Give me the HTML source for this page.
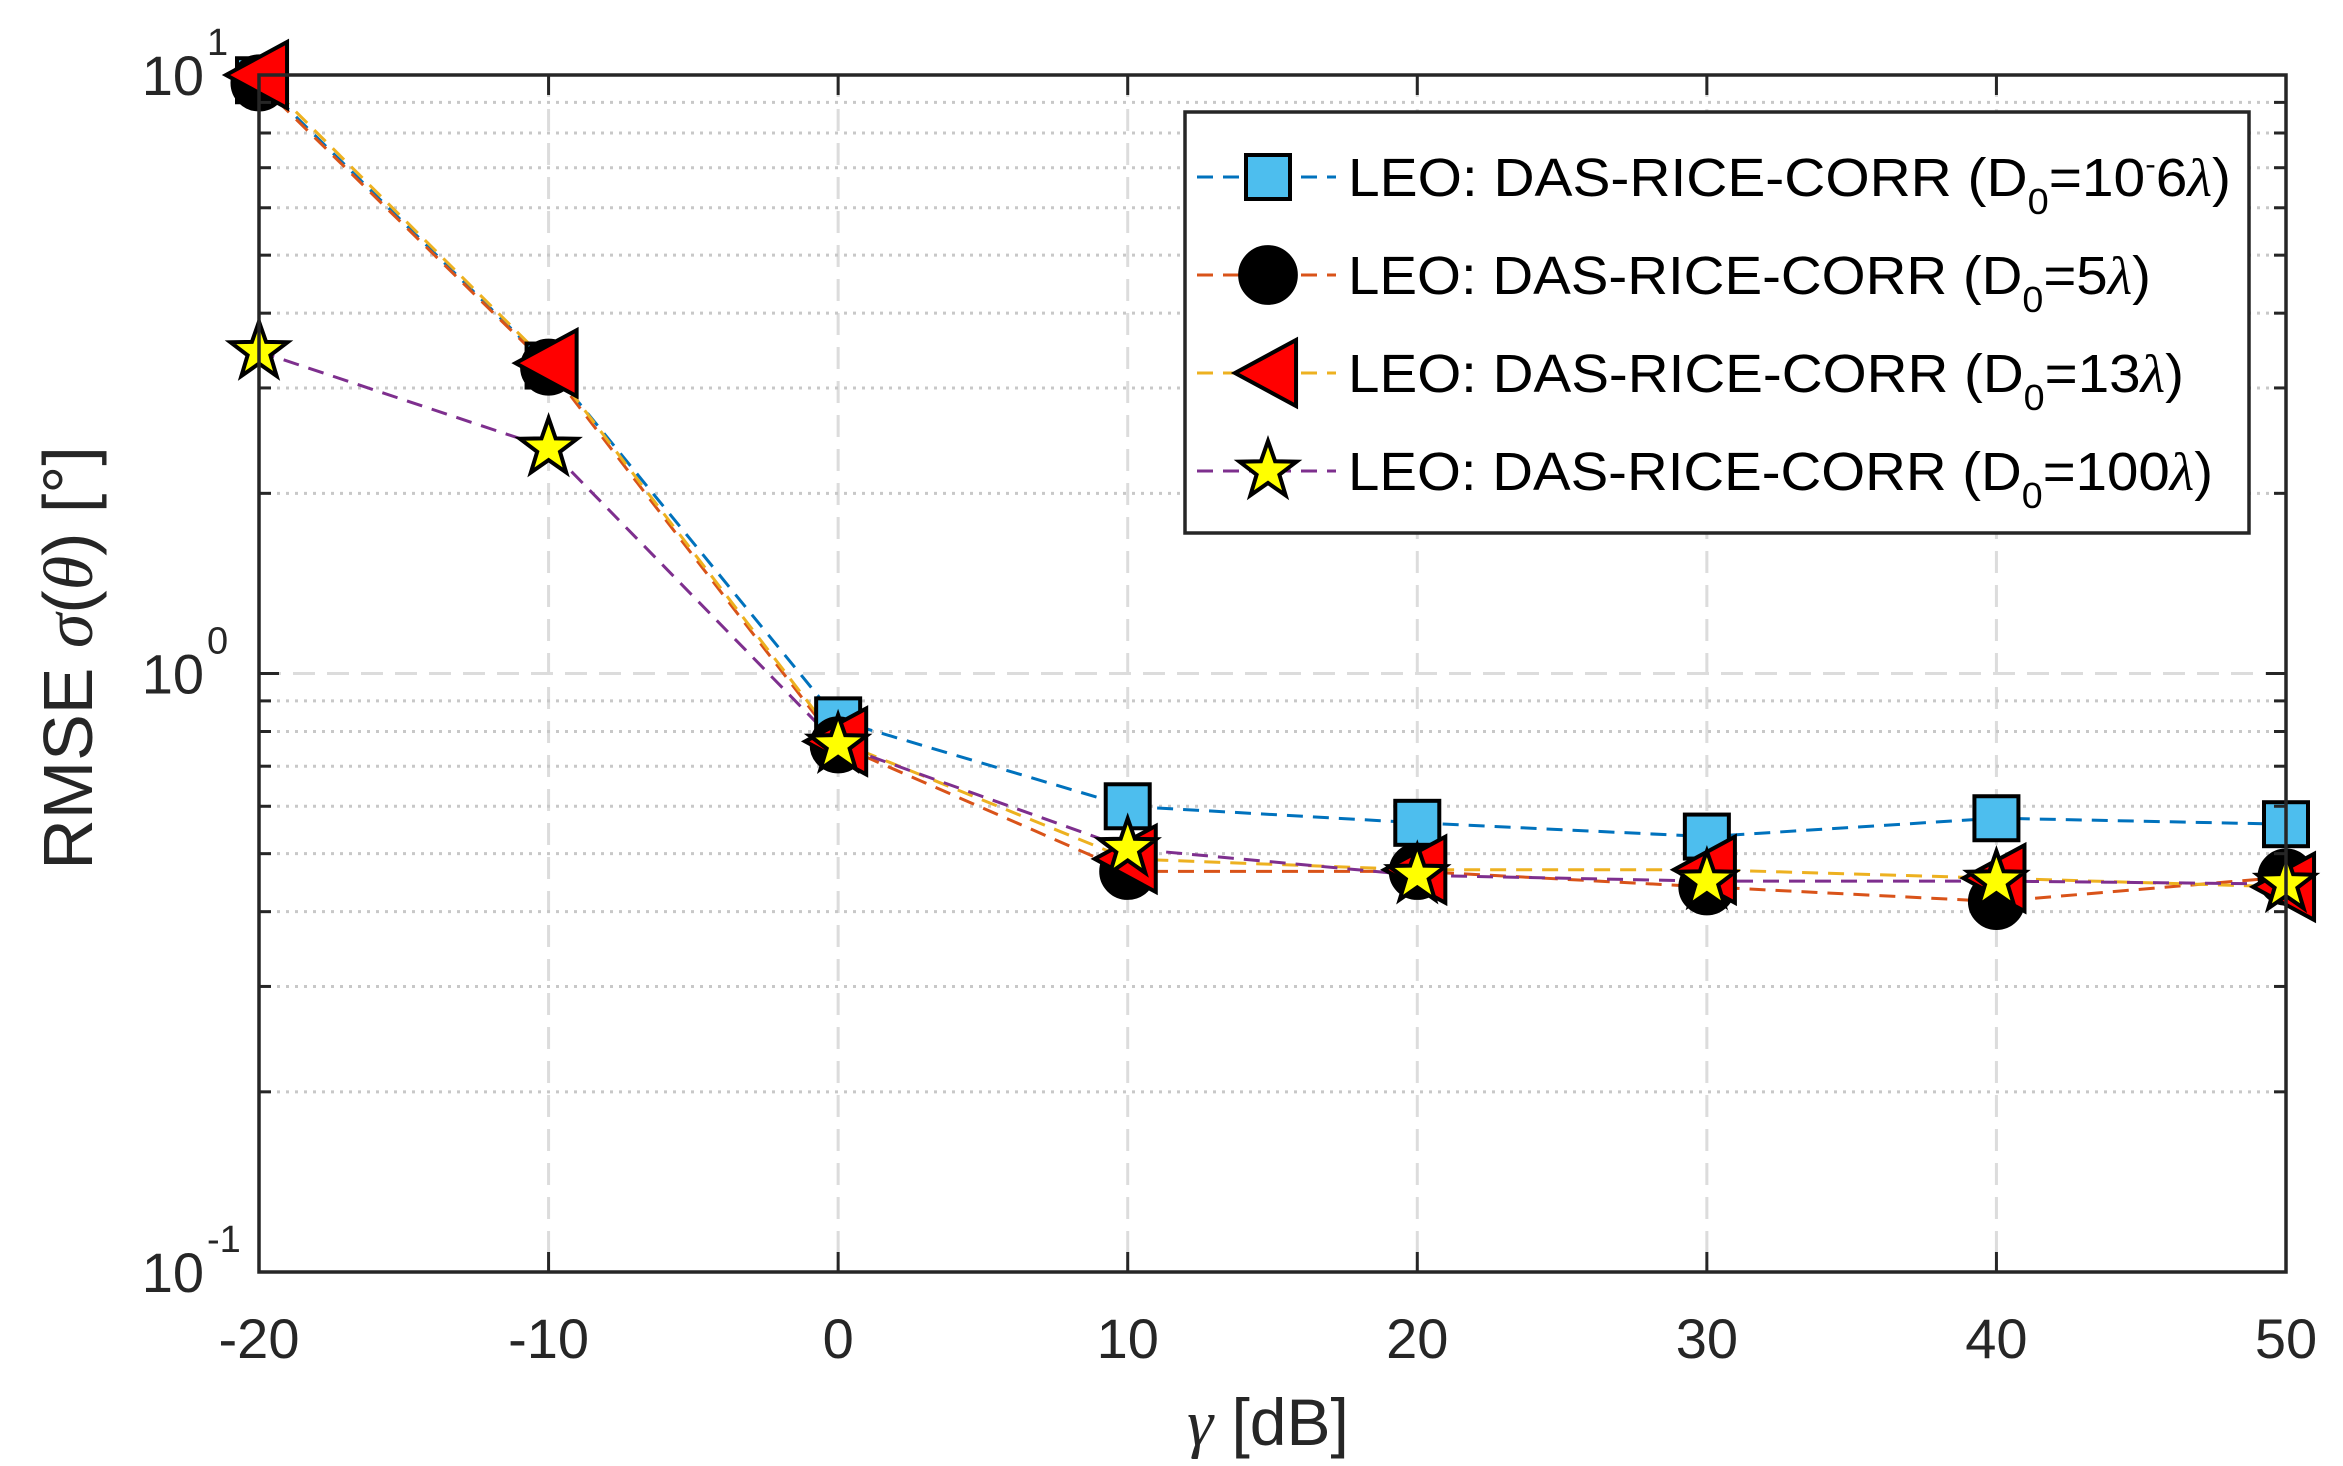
<!DOCTYPE html>
<html><head><meta charset="utf-8"><style>
html,body{margin:0;padding:0;background:#fff;}
svg{display:block;font-family:"Liberation Sans",sans-serif;}
</style></head><body>
<svg id="chart" width="2343" height="1466" viewBox="0 0 2343 1466" xmlns="http://www.w3.org/2000/svg">
<rect width="2343" height="1466" fill="#fff"/>
<g id="grid"></g>
<g id="series"></g>
<g id="axes"></g>
<g id="legend"></g>
</svg>
<script>
const categories = [-20, -10, 0, 10, 20, 30, 40, 50];
const seriesNames = ["D0=1e-6", "D0=5", "D0=13", "D0=100"];
const sSquare = [9.8, 3.27, 0.835, 0.60, 0.563, 0.534, 0.573, 0.56];
const sCircle = [9.7, 3.25, 0.76, 0.467, 0.467, 0.44, 0.416, 0.457];
const sTriangle = [10.0, 3.3, 0.77, 0.49, 0.47, 0.47, 0.455, 0.44];
const sStar = [3.45, 2.38, 0.76, 0.51, 0.46, 0.45, 0.45, 0.445];
const xTicks = [-20, -10, 0, 10, 20, 30, 40, 50];
const yDecades = [-1, 0, 1];

const NS = "http://www.w3.org/2000/svg";
const L = 259, R = 2286, T = 75, B = 1272;
const xMin = -20, xMax = 50, yMinLog = -1, yMaxLog = 1;
function X(v){ return L + (v - xMin) / (xMax - xMin) * (R - L); }
function Y(v){ return B - (Math.log10(v) - yMinLog) / (yMaxLog - yMinLog) * (B - T); }
function mk(tag, attrs, parent){ const e = document.createElementNS(NS, tag); for (const k in attrs) e.setAttribute(k, attrs[k]); parent.appendChild(e); return e; }

const grid = document.getElementById('grid');
const axes = document.getElementById('axes');
const ser = document.getElementById('series');
const leg = document.getElementById('legend');

xTicks.forEach(t => {
  const g = mk('line', {x1:X(t), x2:X(t), y1:T, y2:B, stroke:'#dcdcdc', 'stroke-width':3, 'stroke-dasharray':'22 12'}, grid);
  
  
});
yDecades.forEach(d => {
  const v = Math.pow(10, d);
  const g = mk('line', {x1:L, x2:R, y1:Y(v), y2:Y(v), stroke:'#dcdcdc', 'stroke-width':3, 'stroke-dasharray':'22 12'}, grid);
  
  
  if (d < yMaxLog) {
    for (let m = 2; m <= 9; m++) {
      const y = Y(m * v);
      const mg = mk('line', {x1:L, x2:R, y1:y, y2:y, stroke:'#c8c8c8', 'stroke-width':3, 'stroke-dasharray':'3 6'}, grid);
      
      
      mk('line', {x1:L, x2:L+12, y1:y, y2:y, stroke:'#262626', 'stroke-width':3}, axes);
      mk('line', {x1:R-12, x2:R, y1:y, y2:y, stroke:'#262626', 'stroke-width':3}, axes);
    }
  }
});

const colors = ['#0072BD', '#D95319', '#EDB120', '#7E2F8E'];
const datas = [sSquare, sCircle, sTriangle, sStar];
const markers = ['square', 'circle', 'triangle', 'star'];
function drawMarker(type, cx, cy, parent, scale){
  const s = scale || 1;
  let e;
  if (type === 'square') {
    const h = 22 * s;
    e = mk('rect', {x:cx-h, y:cy-h, width:2*h, height:2*h, fill:'#4DBEEE', stroke:'#000', 'stroke-width':4}, parent);
  } else if (type === 'circle') {
    e = mk('circle', {cx:cx, cy:cy, r:27*s, fill:'#000', stroke:'#000', 'stroke-width':3}, parent);
  } else if (type === 'triangle') {
    const h = 33 * s;
    e = mk('polygon', {points:`${cx-h},${cy} ${cx+h*0.85},${cy-h} ${cx+h*0.85},${cy+h}`, fill:'#ff0000', stroke:'#000', 'stroke-width':4}, parent);
  } else {
    const ro = 30 * s, ri = 12 * s; let pts = [];
    for (let i = 0; i < 10; i++) { const a = -Math.PI/2 + i*Math.PI/5; const r = i%2 ? ri : ro; pts.push((cx + r*Math.cos(a)).toFixed(1) + ',' + (cy + r*Math.sin(a)).toFixed(1)); }
    e = mk('polygon', {points:pts.join(' '), fill:'#ffff00', stroke:'#000', 'stroke-width':4}, parent);
  }
  return e;
}
datas.forEach((d, si) => {
  const pts = d.map((v, i) => X(categories[i]).toFixed(1) + ',' + Y(v).toFixed(1)).join(' ');
  const pl = mk('polyline', {points:pts, fill:'none', stroke:colors[si], 'stroke-width':3, 'stroke-dasharray':'16 10'}, ser);
  
  
});
datas.forEach((d, si) => {
  d.forEach((v, i) => {
    const m = drawMarker(markers[si], X(categories[i]), Y(v), ser);
    
    
  });
});

const box = mk('rect', {x:L, y:T, width:R-L, height:B-T, fill:'none', stroke:'#262626', 'stroke-width':3.5}, axes);


xTicks.forEach(t => {
  mk('line', {x1:X(t), x2:X(t), y1:B, y2:B-20, stroke:'#262626', 'stroke-width':3}, axes);
  mk('line', {x1:X(t), x2:X(t), y1:T, y2:T+20, stroke:'#262626', 'stroke-width':3}, axes);
  const tx = mk('text', {x:X(t), y:B+86, 'text-anchor':'middle', 'font-size':56, fill:'#262626'}, axes);
  tx.textContent = String(t);
  
  
});
yDecades.forEach(d => {
  const y = Y(Math.pow(10, d));
  mk('line', {x1:L, x2:L+20, y1:y, y2:y, stroke:'#262626', 'stroke-width':3}, axes);
  mk('line', {x1:R-20, x2:R, y1:y, y2:y, stroke:'#262626', 'stroke-width':3}, axes);
  const tx = mk('text', {x:204, y:y+20, 'text-anchor':'end', 'font-size':56, fill:'#262626'}, axes);
  tx.textContent = '10';
  
  
  const ex = mk('text', {x:207, y:y-20, 'text-anchor':'start', 'font-size':38, fill:'#262626'}, axes);
  ex.textContent = String(d);
  
  
});
const yt = mk('text', {x:0, y:0, transform:'translate(92,658) rotate(-90)', 'text-anchor':'middle', 'font-size':70, fill:'#262626'}, axes);
yt.innerHTML = 'RMSE <tspan font-family="Liberation Serif, serif" font-style="italic">σ</tspan>(<tspan font-family="Liberation Serif, serif" font-style="italic">θ</tspan>) [°]';


const xt = mk('text', {x:1268, y:1445, 'text-anchor':'middle', 'font-size':66, fill:'#262626'}, axes);
xt.innerHTML = '<tspan font-family="Liberation Serif, serif" font-style="italic">γ</tspan> [dB]';



const lb = mk('rect', {x:1185, y:112, width:1064, height:421, fill:'#fff', stroke:'#262626', 'stroke-width':3.5}, leg);


const legendSuffix = ['10<tspan font-size="30" dy="-22">-</tspan><tspan dy="22">6</tspan>', '5', '13', '100'];
const legendWidths = [883, 803, 836, 865];
const rowY = [177, 275, 373, 471];
seriesNames.forEach((n, i) => {
  const g = mk('g', {}, leg);
  
  
  mk('line', {x1:1197, x2:1336, y1:rowY[i], y2:rowY[i], stroke:colors[i], 'stroke-width':3, 'stroke-dasharray':'16 10'}, g);
  drawMarker(markers[i], 1268, rowY[i], g, markers[i]==='circle'?1.05:1);
  const t = mk('text', {x:1348, y:rowY[i]+19, 'font-size':54, fill:'#000', textLength:legendWidths[i], lengthAdjust:'spacingAndGlyphs'}, g);
  t.innerHTML = 'LEO: DAS-RICE-CORR (D<tspan font-size="36" dy="18">0</tspan><tspan dy="-18">=</tspan>' + legendSuffix[i] + '<tspan font-family="Liberation Serif, serif" font-style="italic">λ</tspan>)';
});
</script>
</body></html>
